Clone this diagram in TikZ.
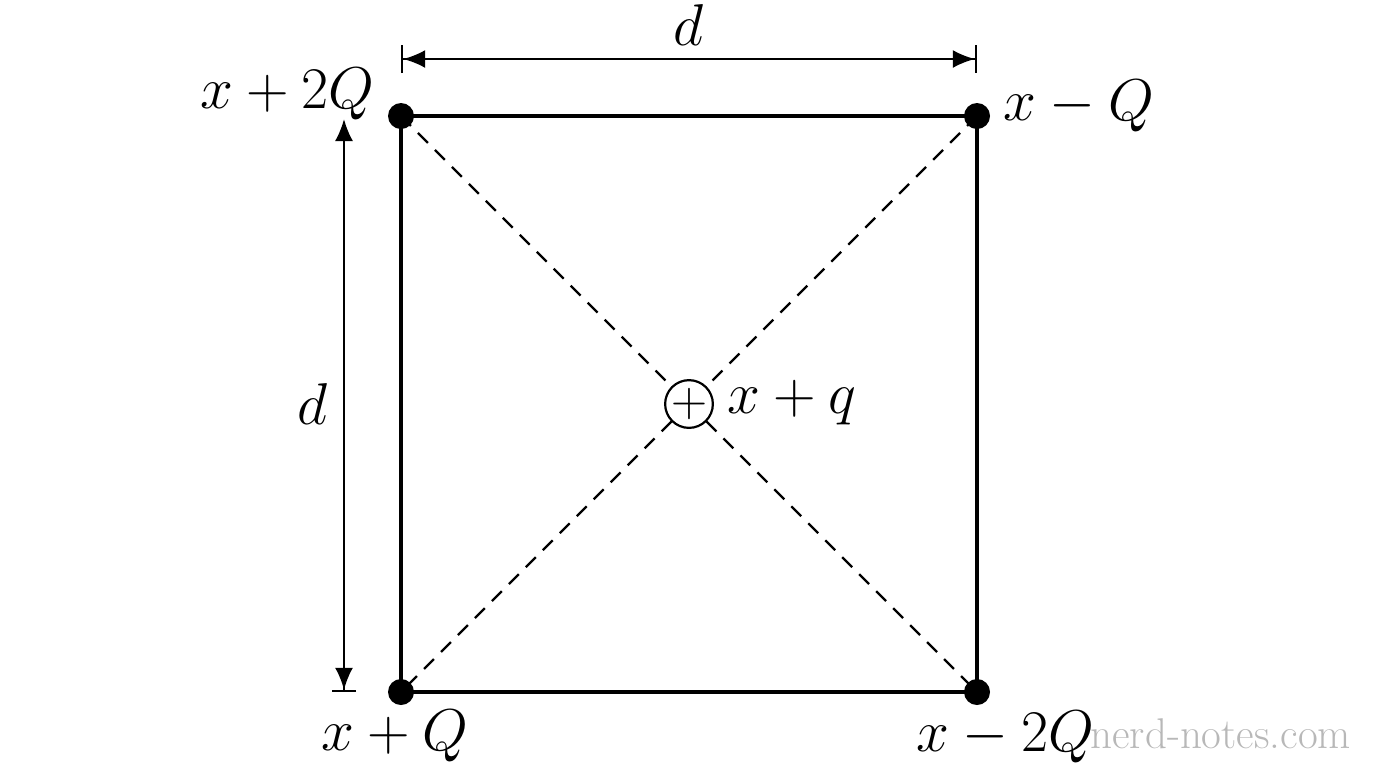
\RequirePackage{fix-cm}
\documentclass[tikz,border=0pt]{standalone}
\usetikzlibrary{arrows.meta}
\begin{document}
\begin{tikzpicture}[x=0.5pt,y=-0.5pt,
  charge/.style={circle,fill=black,inner sep=0pt,minimum size=13pt},
  lbl/.style={font=\fontsize{29.5}{36}\selectfont,inner sep=0pt},
  side/.style={line width=2.1pt},
  diag/.style={line width=1.1pt,dash pattern=on 7pt off 5pt},
  dim/.style={line width=1.1pt}]
\useasboundingbox (0,0) rectangle (1376,768);
% diagonals
\coordinate (cTL) at (401,116);
\coordinate (cTR) at (977,116);
\coordinate (cBL) at (401,692);
\coordinate (cBR) at (977,692);
\draw[diag] (cTL) -- (cBR);
\draw[diag] (cTR) -- (cBL);
% sides
\draw[side] (cTL) -- (cTR) -- (cBR) -- (cBL) -- cycle;
% charges
\node[charge] (tl) at (cTL) {};
\node[charge] (tr) at (cTR) {};
\node[charge] (bl) at (cBL) {};
\node[charge] (br) at (cBR) {};
\node[circle,draw,line width=1.1pt,fill=white,minimum size=22pt,inner sep=0pt,
  font=\fontsize{25}{26}\selectfont] (c) at (689,404) {$+$};
% labels
\node[lbl,anchor=base east] (ltl) at (375,108) {$x+2Q$};
\node[lbl,anchor=base west] (ltr) at (1003,120) {$x-Q$};
\node[lbl,anchor=base west] (lbl) at (321,750) {$x+Q$};
\node[lbl,anchor=base west] (lbr) at (916,751) {$x-2Q$};
\node[lbl,anchor=base west] (lc) at (727,413) {$x+q$};
% dimensions
\coordinate (dA) at (401,59);
\coordinate (dB) at (977,59);
\draw[dim,{Bar[width=14pt]Latex[length=11pt,width=9pt]}-{Latex[length=11pt,width=9pt]Bar[width=14pt]}] (dA) -- (dB);
\node[lbl,anchor=base] (dtop) at (689,45) {$d$};
\coordinate (dC) at (344,692);
\coordinate (dD) at (344,119);
\draw[dim,{Bar[width=12pt]Latex[length=11pt,width=9pt]}-{Latex[length=11pt,width=9pt]}] (dC) -- (dD);
\node[lbl,anchor=base] (dleft) at (313,424) {$d$};
% watermark
\node[anchor=base west,inner sep=0pt,text=black!28,font=\fontsize{21.5}{24}\selectfont] (wm) at (1090,748) {nerd-notes.com};
\end{tikzpicture}
\end{document}
